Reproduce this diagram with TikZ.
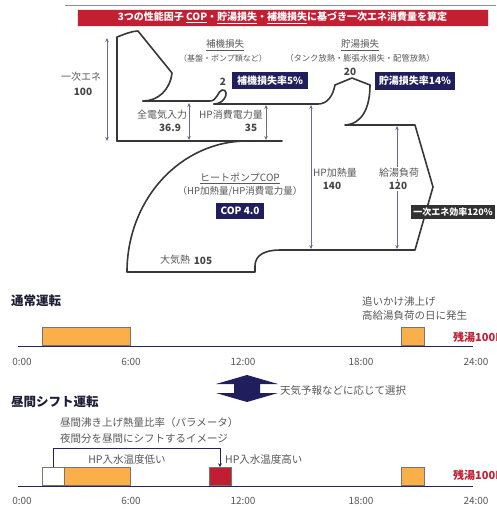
\documentclass[tikz,border=0pt]{standalone}
\usepackage{fontspec}
\setmainfont{Noto Sans CJK JP}
\usetikzlibrary{arrows.meta}
\definecolor{bannerred}{RGB}{196,30,50}
\definecolor{navy}{RGB}{32,30,92}
\definecolor{darkbox}{RGB}{50,50,50}
\definecolor{orangefill}{RGB}{250,175,75}
\definecolor{barborder}{RGB}{125,115,105}
\definecolor{redfill}{RGB}{192,30,50}
\definecolor{tlnavy}{RGB}{35,35,100}
\definecolor{txtgray}{RGB}{88,88,88}
\definecolor{numgray}{RGB}{70,70,70}
\definecolor{dimcol}{RGB}{105,105,145}
\definecolor{flowcol}{RGB}{55,55,55}
\definecolor{topline}{RGB}{140,140,165}
\definecolor{headtxt}{RGB}{30,30,55}
\begin{document}
\begin{tikzpicture}[x=1pt,y=-1pt,
  lbl/.style={text=txtgray, inner sep=0pt, font=\fontsize{10}{12}\selectfont},
  sublbl/.style={text=txtgray, inner sep=0pt, font=\fontsize{8.3}{10}\selectfont},
  num/.style={text=numgray, inner sep=0pt, font=\bfseries\fontsize{10}{12}\selectfont},
  navybox/.style={fill=navy, text=white, inner sep=0pt, font=\bfseries\fontsize{10}{12}\selectfont},
  dim/.style={draw=dimcol, line width=0.6pt, {Stealth[length=4pt,width=3.5pt]}-{Stealth[length=4pt,width=3.5pt]}},
  flow/.style={draw=flowcol, line width=1.6pt, line join=round, line cap=round},
  barbox/.style={draw=barborder, line width=0.8pt, inner sep=0pt},
  tline/.style={draw=tlnavy, line width=1pt},
  timelbl/.style={text=txtgray, inner sep=0pt, font=\fontsize{10}{12}\selectfont},
  headlbl/.style={text=headtxt, inner sep=0pt, anchor=west, font=\bfseries\fontsize{12.5}{14}\selectfont},
  notelbl/.style={text=txtgray, inner sep=0pt, anchor=west, font=\fontsize{10.5}{12}\selectfont},
  zanyu/.style={text=bannerred, inner sep=0pt, anchor=west, font=\bfseries\fontsize{11}{12}\selectfont}
]
\useasboundingbox (0,0) rectangle (496,509);

% top line and banner
\coordinate (tl1) at (65,5);
\coordinate (tl2) at (496,5);
\draw[topline, line width=1pt] (tl1) -- (tl2);
\node[fill=bannerred, draw=white!80!gray, line width=0.5pt, minimum width=411pt, minimum height=17pt, inner sep=0pt, text=white,
  font=\bfseries\fontsize{10}{12}\selectfont] (banner) at (282.5,17.5)
  {3つの性能因子 \underline{COP}・\underline{貯湯損失}・\underline{補機損失}に基づき一次エネ消費量を算定};

% ---------- Sankey outline ----------
\draw[flow] (117,141) -- (117,37) .. controls (125,34) and (132,31) .. (138,31) -- (172,73)
  .. controls (170,90) and (158,101) .. (143,101);
\draw[flow] (143,101) -- (210,101) .. controls (217,101) and (218,91) .. (222,90)
  .. controls (227,89) and (227,96) .. (224,99) .. controls (222,102) and (218,104) .. (214,104);
\draw[flow] (214,104) -- (318,104) .. controls (328,104) and (333,95) .. (335,85)
  -- (352,78) -- (370,85) .. controls (370,108) and (362,124) .. (345,125)
  -- (415,125) -- (433,187) -- (415,250) -- (280,250)
  .. controls (265,250) and (255,255) .. (255,266) -- (255,272) -- (127,272)
  .. controls (127,199) and (181,141) .. (247,141);
\draw[flow] (117,141) -- (282,141);

% dimension arrows
\coordinate (d1a) at (107,38);  \coordinate (d1b) at (107,141);
\coordinate (d2a) at (189,103); \coordinate (d2b) at (189,140);
\coordinate (d3a) at (266,105); \coordinate (d3b) at (266,140);
\coordinate (d4a) at (311,105); \coordinate (d4b) at (311,249);
\coordinate (d5a) at (397,126); \coordinate (d5b) at (397,249);
\draw[dim] (d1a) -- (d1b);
\draw[dim] (d2a) -- (d2b);
\draw[dim] (d3a) -- (d3b);
\draw[dim] (d4a) -- (d4b);
\draw[dim] (d5a) -- (d5b);

% labels
\node[lbl] (primE) at (81,77) {一次エネ};
\node[num] (primV) at (83,92) {100};
\node[lbl, font=\fontsize{9.5}{11}\selectfont] (hokiT) at (225,45) {\underline{補機損失}};
\node[sublbl, font=\fontsize{8}{10}\selectfont] (hokiS) at (223,58) {（基盤・ポンプ類など）};
\node[num] (hokiV) at (223,82) {2};
\node[navybox, minimum width=76pt, minimum height=17pt] (hokiB) at (270,80.5) {補機損失率5\%};
\node[lbl, font=\fontsize{9.5}{11}\selectfont] (choT) at (360,45) {\underline{貯湯損失}};
\node[sublbl] (choS) at (360,58) {（タンク放熱・膨張水損失・配管放熱）};
\node[num] (choV) at (350,72) {20};
\node[navybox, minimum width=80pt, minimum height=18pt] (choB) at (415,81) {貯湯損失率14\%};
\node[lbl] (zenT) at (162,115) {全電気入力};
\node[num] (zenV) at (170,128) {36.9};
\node[lbl] (hpcT) at (231,115) {HP消費電力量};
\node[num] (hpcV) at (251,128) {35};
\node[lbl] (copT) at (240,178) {\underline{ヒートポンプCOP}};
\node[lbl, font=\fontsize{9.5}{11}\selectfont] (copS) at (240,191) {（HP加熱量/HP消費電力量）};
\node[navybox, minimum width=48pt, minimum height=16pt] (copB) at (240,211) {COP 4.0};
\node[lbl] (airT) at (175,260) {大気熱};
\node[num] (airV) at (203,261) {105};
\node[lbl] (hphT) at (335,173) {HP加熱量};
\node[num] (hphV) at (332,186) {140};
\node[lbl, fill=white, inner sep=1pt] (kyuT) at (399,173) {給湯負荷};
\node[num, fill=white, inner sep=1pt] (kyuV) at (398,186) {120};
\node[fill=darkbox, text=white, inner sep=0pt, minimum width=84pt, minimum height=14pt,
  font=\bfseries\fontsize{9}{10}\selectfont] (effB) at (453,212) {一次エネ効率120\%};

% ---------- normal operation ----------
\node[headlbl] (normH) at (11,301) {通常運転};
\node[notelbl] (oiT1) at (362,301) {追いかけ沸上げ};
\node[notelbl] (oiT2) at (362,316) {高給湯負荷の日に発生};
\node[barbox, fill=orangefill, minimum width=88pt, minimum height=18pt, anchor=south west] (n1) at (42,346) {};
\node[barbox, fill=orangefill, minimum width=23pt, minimum height=18pt, anchor=south west] (n2) at (401,346) {};
\coordinate (t1a) at (18,346); \coordinate (t1b) at (473,346);
\draw[tline] (t1a) -- (t1b);
\node[zanyu] (z1) at (453,337) {残湯100L};
\node[timelbl] (a0) at (22,362) {0:00};
\node[timelbl] (a6) at (131,362) {6:00};
\node[timelbl] (a12) at (243,362) {12:00};
\node[timelbl] (a18) at (361,362) {18:00};
\node[timelbl] (a24) at (476,362) {24:00};

% ---------- selection arrow ----------
\fill[navy] (247,375) -- (278,384) -- (260,384) -- (260,393) -- (278,393) -- (247,402)
  -- (216,393) -- (234,393) -- (234,384) -- (216,384) -- cycle;
\node[notelbl] (selT) at (280,391) {天気予報などに応じて選択};

% ---------- daytime shift ----------
\node[headlbl] (shiftH) at (11,402) {昼間シフト運転};
\node[notelbl] (sN1) at (60,423) {昼間沸き上げ熱量比率（パラメータ）};
\node[notelbl] (sN2) at (60,439) {夜間分を昼間にシフトするイメージ};
\node[barbox, fill=white, minimum width=22pt, minimum height=18pt, anchor=south west] (s0) at (42,486) {};
\node[barbox, fill=orangefill, minimum width=66pt, minimum height=18pt, anchor=south west] (s1) at (64,486) {};
\node[barbox, fill=redfill, minimum width=22pt, minimum height=18pt, anchor=south west] (s2) at (209,486) {};
\node[barbox, fill=orangefill, minimum width=23pt, minimum height=18pt, anchor=south west] (s3) at (401,486) {};
\coordinate (br1) at (53,448); \coordinate (br2) at (220,448);
\draw[draw=tlnavy, line width=0.7pt, -{Stealth[length=4pt,width=4pt]}]
  (s0.north -| br1) -- (br1) -- (br2) -- (s2.north -| br2);
\node[lbl, font=\fontsize{10.5}{12}\selectfont] (lowT) at (127,460) {HP入水温度低い};
\node[lbl, anchor=west, font=\fontsize{10.5}{12}\selectfont] (highT) at (225,460) {HP入水温度高い};
\coordinate (t2a) at (18,486); \coordinate (t2b) at (473,486);
\draw[tline] (t2a) -- (t2b);
\node[zanyu] (z2) at (453,475) {残湯100L};
\node[timelbl] (b0) at (22,501) {0:00};
\node[timelbl] (b6) at (131,501) {6:00};
\node[timelbl] (b12) at (243,501) {12:00};
\node[timelbl] (b18) at (361,501) {18:00};
\node[timelbl] (b24) at (476,501) {24:00};
\end{tikzpicture}
\end{document}
